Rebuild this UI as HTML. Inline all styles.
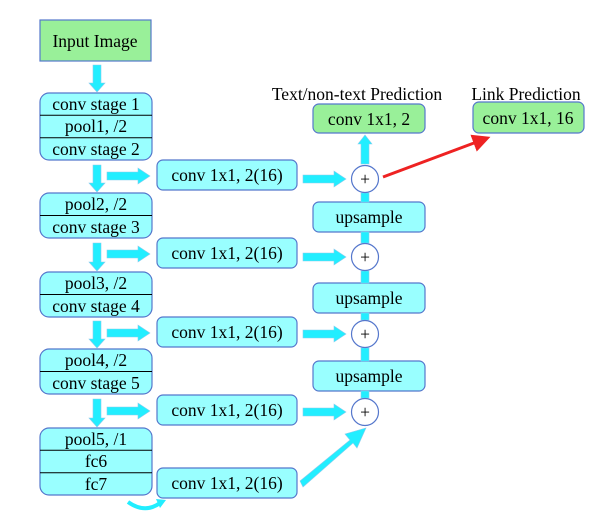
<!DOCTYPE html>
<html><head><meta charset="utf-8"><style>
body{margin:0;background:#fff}
svg text{font-family:"Liberation Serif","DejaVu Serif",serif;font-size:17.5px;fill:#000;text-anchor:middle}
.c{fill:#99ffff;stroke:#5577cc;stroke-width:1.2}
.gr{fill:#99f099;stroke:#5577cc;stroke-width:1.2}
.a{fill:#22eeff;stroke:#88ccee;stroke-width:0.6}
</style></head><body>
<svg width="589" height="512" viewBox="0 0 589 512" xmlns="http://www.w3.org/2000/svg">
<defs><marker id="ra" markerWidth="6" markerHeight="6" refX="3" refY="3" orient="auto" markerUnits="strokeWidth"><path d="M0,0 L6,3 L0,6 Z" fill="#ee2222"/></marker></defs>
<rect class="gr" x="40" y="20" width="111" height="41"/>
<text x="95" y="47">Input Image</text>
<g>
<rect class="c" x="40" y="93" width="112" height="67" rx="9"/>
<line x1="40" x2="152" y1="115.3" y2="115.3" stroke="#000"/><line x1="40" x2="152" y1="137.7" y2="137.7" stroke="#000"/>
<text x="96" y="110">conv stage 1</text><text x="96" y="132">pool1, /2</text><text x="96" y="155">conv stage 2</text></g>
<g>
<rect class="c" x="40" y="193" width="112" height="45" rx="9"/><line x1="40" x2="152" y1="215.5" y2="215.5" stroke="#000"/>
<text x="96" y="210">pool2, /2</text><text x="96" y="233">conv stage 3</text></g>
<g>
<rect class="c" x="40" y="272" width="112" height="45" rx="9"/><line x1="40" x2="152" y1="294.5" y2="294.5" stroke="#000"/>
<text x="96" y="289">pool3, /2</text><text x="96" y="312">conv stage 4</text></g>
<g>
<rect class="c" x="40" y="349" width="112" height="45" rx="9"/><line x1="40" x2="152" y1="371.5" y2="371.5" stroke="#000"/>
<text x="96" y="366">pool4, /2</text><text x="96" y="389">conv stage 5</text></g>
<g>
<rect class="c" x="40" y="428" width="112" height="67" rx="9"/>
<line x1="40" x2="152" y1="450.3" y2="450.3" stroke="#000"/><line x1="40" x2="152" y1="472.7" y2="472.7" stroke="#000"/>
<text x="96" y="445">pool5, /1</text><text x="96" y="467">fc6</text><text x="96" y="490">fc7</text></g>
<g>
<path class="a" d="M93,65 L101,65 L101,83 L105,83 L97,92 L89,83 L93,83 Z"/>
<path class="a" d="M93,165 L101,165 L101,183 L105,183 L97,192 L89,183 L93,183 Z"/>
<path class="a" d="M93,243 L101,243 L101,262 L105,262 L97,271 L89,262 L93,262 Z"/>
<path class="a" d="M93,321 L101,321 L101,339 L105,339 L97,348 L89,339 L93,339 Z"/>
<path class="a" d="M93,399 L101,399 L101,418 L105,418 L97,427 L89,418 L93,418 Z"/>
</g>
<g>
<rect class="c" x="157" y="160" width="140" height="30" rx="6"/><text x="227" y="181">conv 1x1, 2(16)</text>
<rect class="c" x="157" y="238" width="140" height="30" rx="6"/><text x="227" y="259">conv 1x1, 2(16)</text>
<rect class="c" x="157" y="317" width="140" height="30" rx="6"/><text x="227" y="338">conv 1x1, 2(16)</text>
<rect class="c" x="157" y="395" width="140" height="30" rx="6"/><text x="227" y="416">conv 1x1, 2(16)</text>
<rect class="c" x="157" y="468" width="140" height="30" rx="6"/><text x="227" y="489">conv 1x1, 2(16)</text>
</g>
<g>
<path class="a" d="M107,172 L138,172 L138,168 L150,176 L138,184 L138,180 L107,180 Z"/>
<path class="a" d="M107,250 L138,250 L138,246 L150,254 L138,262 L138,258 L107,258 Z"/>
<path class="a" d="M107,329 L138,329 L138,325 L150,333 L138,341 L138,337 L107,337 Z"/>
<path class="a" d="M107,407 L138,407 L138,403 L150,411 L138,419 L138,415 L107,415 Z"/>
<path class="a" d="M303,175 L334,175 L334,171 L346,179 L334,187 L334,183 L303,183 Z"/>
<path class="a" d="M303,253 L334,253 L334,249 L346,257 L334,265 L334,261 L303,261 Z"/>
<path class="a" d="M303,330 L334,330 L334,326 L346,334 L334,342 L334,338 L303,338 Z"/>
<path class="a" d="M303,408 L334,408 L334,404 L346,412 L334,420 L334,416 L303,416 Z"/>
</g>
<g>
<rect class="c" x="313" y="202" width="112" height="30" rx="6"/><text x="369" y="223">upsample</text>
<rect class="c" x="313" y="283" width="112" height="30" rx="6"/><text x="369" y="304">upsample</text>
<rect class="c" x="313" y="361" width="112" height="30" rx="6"/><text x="369" y="382">upsample</text>
</g>
<g>
<path class="a" d="M361,164 L369,164 L369,144 L372,144 L365,135 L358,144 L361,144 Z"/>
<path class="a" d="M361,202 L369,202 L369,193 L361,193 Z"/>
<path class="a" d="M361,243 L369,243 L369,232 L361,232 Z"/>
<path class="a" d="M361,283 L369,283 L369,271 L361,271 Z"/>
<path class="a" d="M361,320 L369,320 L369,313 L361,313 Z"/>
<path class="a" d="M361,361 L369,361 L369,348 L361,348 Z"/>
<path class="a" d="M361,398 L369,398 L369,391 L361,391 Z"/>
</g>
<g>
<circle cx="365" cy="179" r="13.5" fill="#fff" stroke="#5577cc" stroke-width="1.2"/><text x="365" y="185">+</text>
<circle cx="365" cy="257" r="13.5" fill="#fff" stroke="#5577cc" stroke-width="1.2"/><text x="365" y="263">+</text>
<circle cx="365" cy="334" r="13.5" fill="#fff" stroke="#5577cc" stroke-width="1.2"/><text x="365" y="340">+</text>
<circle cx="365" cy="412" r="13.5" fill="#fff" stroke="#5577cc" stroke-width="1.2"/><text x="365" y="418">+</text>
</g>
<path class="a" d="M300,481 L350,440 L345,434 L366,428 L357,448 L353,443 L303,487 Z"/>
<path d="M128,502 Q145,514 160,503" fill="none" stroke="#22eeff" stroke-width="4"/>
<path d="M156,499 L166,500 L160,508 Z" fill="#22eeff"/>
<text x="357" y="100">Text/non-text Prediction</text>
<rect class="gr" x="313" y="104" width="112" height="29" rx="6"/>
<text x="369" y="125">conv 1x1, 2</text>
<text x="526" y="100">Link Prediction</text>
<rect class="gr" x="473" y="102" width="111" height="31" rx="6"/>
<text x="528" y="124">conv 1x1, 16</text>
<line x1="383" y1="177" x2="482" y2="140" stroke="#ee2222" stroke-width="3" marker-end="url(#ra)"/>
</svg>
</body></html>
